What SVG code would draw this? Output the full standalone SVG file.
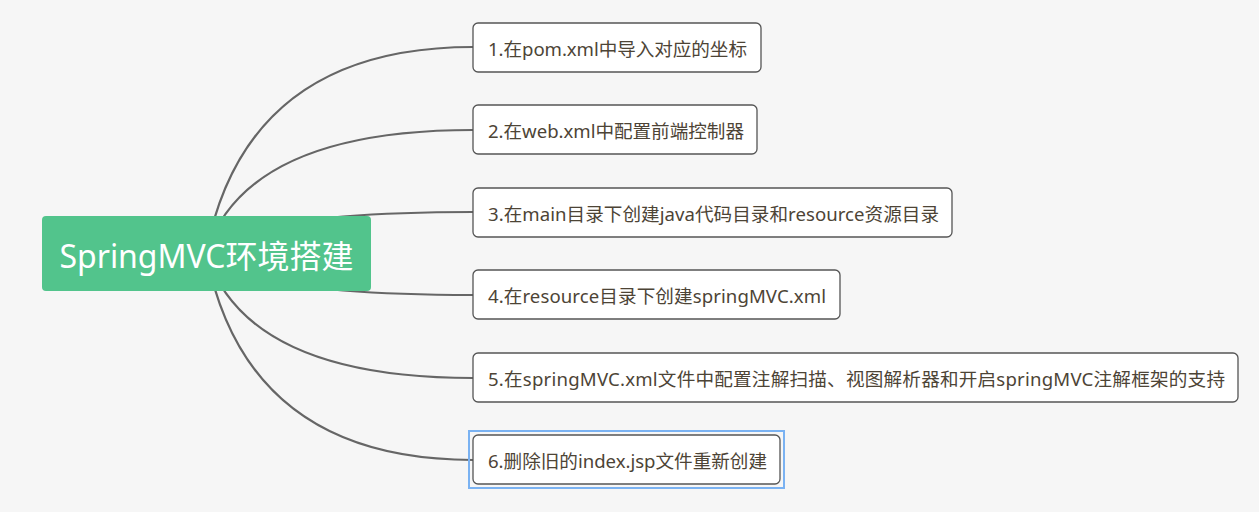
<svg xmlns="http://www.w3.org/2000/svg" width="1259" height="512" viewBox="0 0 1259 512">
<style>
.bg{fill:#f6f6f6}
.conn{fill:none;stroke:#666666;stroke-width:2.2}
.box{fill:#ffffff;stroke:#555555;stroke-width:1.3}
.lbl{font-family:"Noto Sans","Noto Sans CJK SC",sans-serif;font-size:18.6px;fill:#4d4436}
.root{fill:#52c48c}
.rootlbl{font-family:"Noto Sans","Noto Sans CJK SC",sans-serif;font-size:32px;fill:#ffffff}
.sel{fill:none;stroke:#7ab2f2;stroke-width:2}
</style>
<rect class="bg" x="0" y="0" width="1259" height="512"/>
<g id="connectors">
<path class="conn" d="M206,253 Q246,47 473,47"/>
<path class="conn" d="M206,253 Q246,130 473,130"/>
<path class="conn" d="M206,253 Q246,212 473,212"/>
<path class="conn" d="M206,253 Q246,295 473,295"/>
<path class="conn" d="M206,253 Q246,378 473,378"/>
<path class="conn" d="M206,253 Q246,460 473,460"/>
</g>
<g id="root">
<rect class="root" x="42" y="216" width="329" height="75" rx="4"/>
<text class="rootlbl" x="206.5" y="268" text-anchor="middle" textLength="294">SpringMVC环境搭建</text>
</g>
<g id="n1">
<rect class="box" x="473" y="23" width="288" height="49" rx="5"/>
<text class="lbl" x="488" y="56" textLength="259">1.在pom.xml中导入对应的坐标</text>
</g>
<g id="n2">
<rect class="box" x="473" y="105" width="284" height="49" rx="5"/>
<text class="lbl" x="488" y="138" textLength="256">2.在web.xml中配置前端控制器</text>
</g>
<g id="n3">
<rect class="box" x="473" y="188" width="479" height="49" rx="5"/>
<text class="lbl" x="488" y="221" textLength="451">3.在main目录下创建java代码目录和resource资源目录</text>
</g>
<g id="n4">
<rect class="box" x="473" y="270" width="367" height="49" rx="5"/>
<text class="lbl" x="488" y="303" textLength="338">4.在resource目录下创建springMVC.xml</text>
</g>
<g id="n5">
<rect class="box" x="473" y="353" width="765" height="49" rx="5"/>
<text class="lbl" x="488" y="386" textLength="737">5.在springMVC.xml文件中配置注解扫描、视图解析器和开启springMVC注解框架的支持</text>
</g>
<g id="n6">
<rect class="sel" x="469" y="431" width="315" height="57"/>
<rect class="box" x="473" y="435" width="307" height="49" rx="5"/>
<text class="lbl" x="488" y="468" textLength="279">6.删除旧的index.jsp文件重新创建</text>
</g>
</svg>
